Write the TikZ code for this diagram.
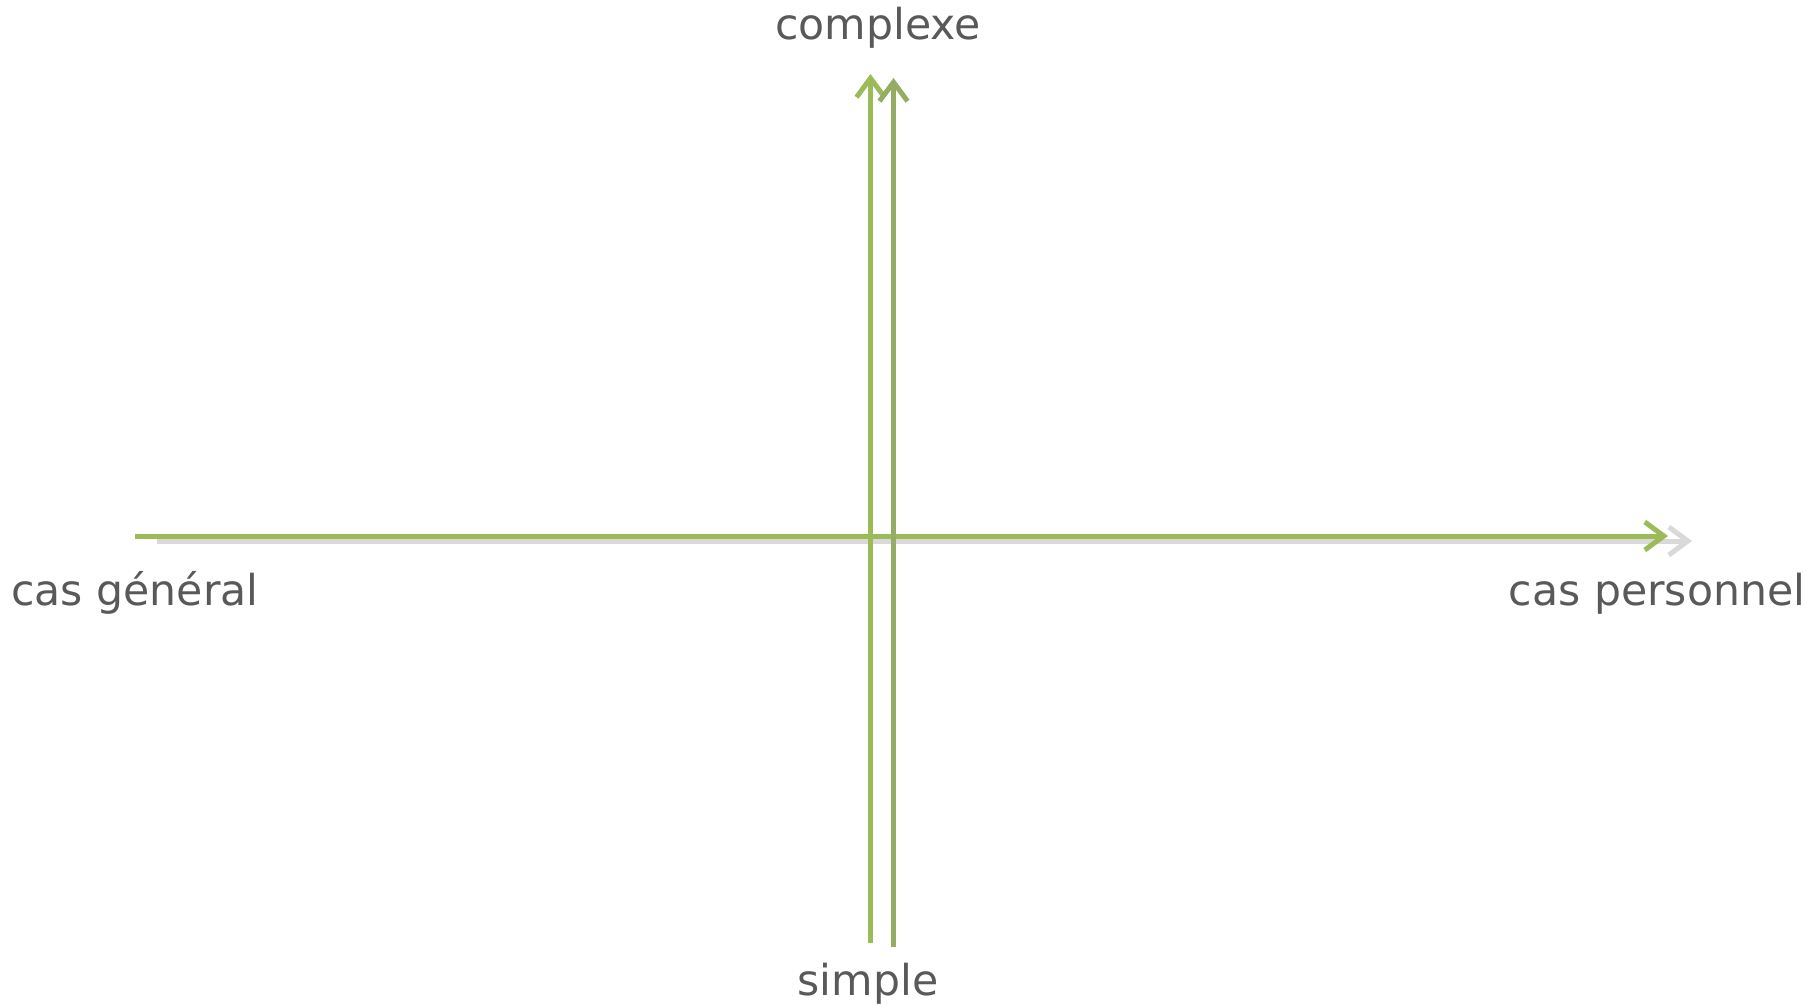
\documentclass[tikz,border=0pt]{standalone}
\usepackage{fontspec}
\setmainfont{DejaVu Sans}
\usetikzlibrary{arrows.meta}
\definecolor{axgreen}{HTML}{9BBB59}
\definecolor{axolive}{HTML}{96AC64}
\definecolor{axgray}{HTML}{D9D9D9}
\definecolor{txtgray}{HTML}{595959}
\begin{document}
\begin{tikzpicture}[x=0.5pt,y=-0.5pt,
  axis/.style={line width=2.5pt, -{Straight Barb[length=9.5pt,width=14pt]}},
  lbl/.style={anchor=base, inner sep=0pt, text=txtgray, font=\fontsize{21.3}{25}\selectfont}]
\useasboundingbox (0,0) rectangle (1814,1005);
% coordinates
\coordinate (g0) at (157,541);
\coordinate (g1) at (1692,541);
\coordinate (h0) at (135,536);
\coordinate (h1) at (1668,536);
\coordinate (a0) at (870.5,943);
\coordinate (a1) at (870.5,74);
\coordinate (b0) at (893.5,947);
\coordinate (b1) at (893.5,78);
% axes
\draw[axis, axgray] (g0) -- (g1);
\draw[axis, axgreen] (h0) -- (h1);
\draw[axis, axgreen] (a0) -- (a1);
\draw[axis, axolive] (b0) -- (b1);
% labels
\node[lbl] (top) at (878,40) {complexe};
\node[lbl] (bot) at (868,995) {simple};
\node[lbl] (left) at (135,605) {cas général};
\node[lbl] (right) at (1657,605) {cas personnel};
\end{tikzpicture}
\end{document}
